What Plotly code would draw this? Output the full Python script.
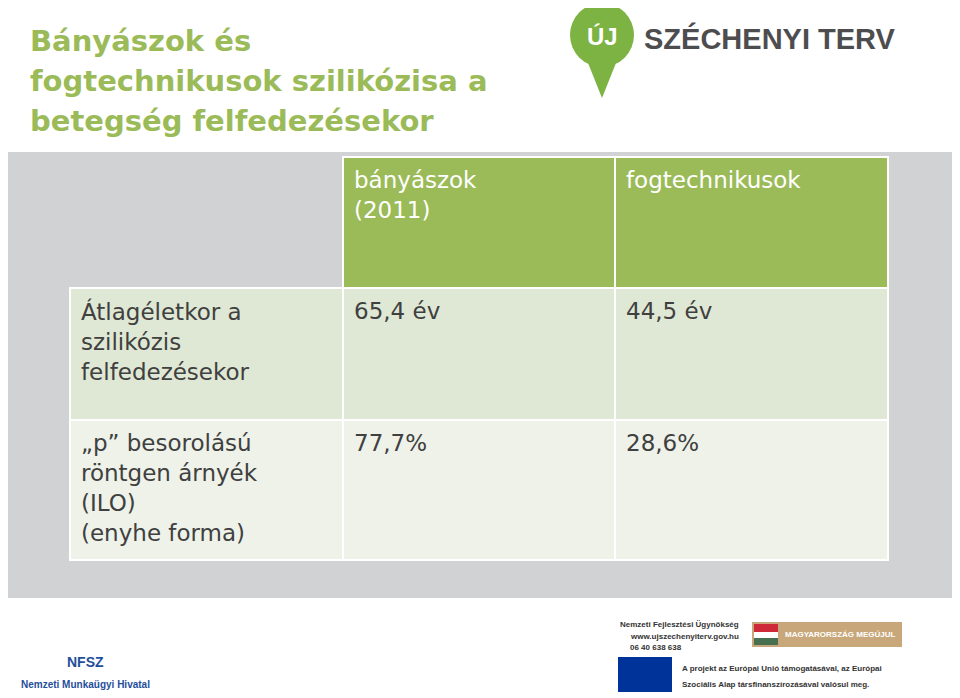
import plotly.graph_objects as go

title_lines = ["Bányászok és", "fogtechnikusok szilikózisa a", "betegség felfedezésekor"]
col_headers = ["bányászok<br>(2011)", "fogtechnikusok"]
row_labels = ["Átlagéletkor a<br>szilikózis<br>felfedezésekor", "„p” besorolású<br>röntgen árnyék<br>(ILO)<br>(enyhe forma)"]
miners = ["65,4 év", "77,7%"]
dental = ["44,5 év", "28,6%"]

GREEN = "#9bbb59"
TXT = "#404040"
FONT = "DejaVu Sans, Arial, sans-serif"

fig = go.Figure()
shapes = []
ann = []

def rect(x0, y0, x1, y1, fill, line=None):
    shapes.append(dict(type="rect", x0=x0, y0=y0, x1=x1, y1=y1, fillcolor=fill,
                       line=dict(color=line or fill, width=2 if line else 0), layer="below"))

def text(x, y, s, size, color, bold=False, xa="left", ya="top", align="left", font=FONT):
    if bold:
        s = "<b>" + s + "</b>"
    ann.append(dict(x=x, y=y, text=s, showarrow=False, xanchor=xa, yanchor=ya, align=align,
                    font=dict(family=font, size=size, color=color)))

rect(0, 152, 980, 598, "#d1d2d4")

cx = [70, 343, 615, 888]
ry = [157, 288, 420, 560]
row_fill = ["#dfe8d4", "#eef2e9"]
for j in range(2):
    rect(cx[j + 1], ry[0], cx[j + 2], ry[1], GREEN, "white")
    text(cx[j + 1] + 9, ry[0] + 8, col_headers[j], 23, "white")
for i in range(2):
    for j in range(3):
        rect(cx[j], ry[i + 1], cx[j + 1], ry[i + 2], row_fill[i], "white")
    text(cx[0] + 9, ry[i + 1] + 8, row_labels[i], 23, TXT)
    text(cx[1] + 9, ry[i + 1] + 8, miners[i], 23, TXT)
    text(cx[2] + 9, ry[i + 1] + 8, dental[i], 23, TXT)

for k, line in enumerate(title_lines):
    text(28, 22 + 40 * k, line, 29, GREEN, bold=True)

shapes.append(dict(type="circle", x0=570, y0=3, x1=634, y1=67, fillcolor="#7cb342", line=dict(width=0)))
shapes.append(dict(type="path", path="M 586 58 L 618 58 L 602 98 Z", fillcolor="#7cb342", line=dict(width=0)))
text(602, 36, "ÚJ", 24, "white", bold=True, xa="center", ya="middle", font="Liberation Sans, Arial")
text(642, 38, "SZÉCHENYI TERV", 29, "#4d4d4f", bold=True, ya="middle", font="Liberation Sans, Arial")

text(85, 662, "NFSZ", 14, "#1f4e9c", bold=True, xa="center", ya="middle", font="Liberation Sans, Arial")
text(85, 684, "Nemzeti Munkaügyi Hivatal", 10, "#1f4e9c", bold=True, xa="center", ya="middle", font="Liberation Sans, Arial")
text(618, 624, "Nemzeti Fejlesztési Ügynökség", 8, "#333", bold=True, ya="middle", font="Liberation Sans, Arial")
text(628, 636, "www.ujszechenyiterv.gov.hu", 8, "#333", bold=True, ya="middle", font="Liberation Sans, Arial")
text(628, 647, "06 40 638 638", 8, "#333", bold=True, ya="middle", font="Liberation Sans, Arial")
rect(752, 622, 902, 647, "#c8a77a")
rect(754, 624, 778, 632, "#ce2939"); rect(754, 632, 778, 638, "white"); rect(754, 638, 778, 645, "#477050")
text(840, 634, "MAGYARORSZÁG MEGÚJUL", 8, "white", bold=True, xa="center", ya="middle", font="Liberation Sans, Arial")
rect(618, 657, 672, 692, "#003399")
text(680, 668, "A projekt az Európai Unió támogatásával, az Európai", 8, "#333", bold=True, ya="middle", font="Liberation Sans, Arial")
text(680, 684, "Szociális Alap társfinanszírozásával valósul meg.", 8, "#333", bold=True, ya="middle", font="Liberation Sans, Arial")

fig.update_layout(
    width=952, height=690, margin=dict(l=0, r=0, t=0, b=0),
    paper_bgcolor="white", plot_bgcolor="white",
    xaxis=dict(range=[8, 960], visible=False, fixedrange=True),
    yaxis=dict(range=[698, 8], visible=False, fixedrange=True),
    shapes=shapes, annotations=ann, showlegend=False,
)
fig.write_html("out.html")
